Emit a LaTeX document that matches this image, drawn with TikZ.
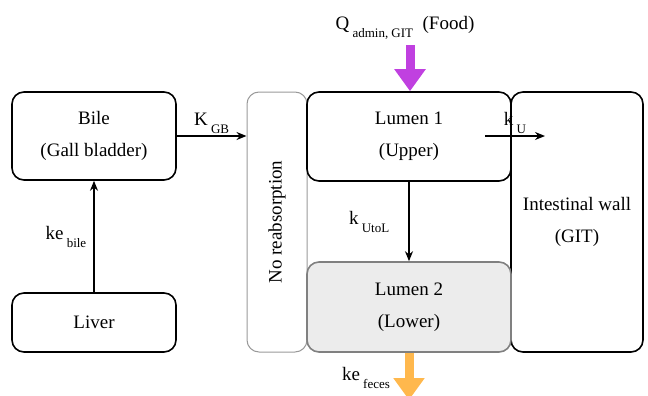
\documentclass[tikz,border=0pt]{standalone}
\usepackage{fontspec}
\setmainfont{Liberation Serif}
\usetikzlibrary{arrows.meta}

\definecolor{morado}{HTML}{C040E0}
\definecolor{naranja}{HTML}{FFB84D}
\newcommand{\bajo}[1]{\,\raisebox{-8pt}{\fontsize{13}{13}\selectfont #1}}

\tikzset{
  caja/.style={draw, line width=1.6pt, rounded corners=12pt, align=center,
    font=\fontsize{19}{32}\selectfont, inner sep=0pt},
  flecha/.style={-{Stealth[length=10pt,width=8pt]}, line width=1.5pt},
  gorda/.style={line width=9pt, -{Triangle[width=30pt,length=22pt]}},
  etiqueta/.style={font=\fontsize{19}{22}\selectfont, inner sep=1pt},
}

\begin{document}
\begin{tikzpicture}[x=1pt,y=-1pt]
    \useasboundingbox (0,0) rectangle (648,396);

    % Cajas de la izquierda
    \node[caja, minimum width=164, minimum height=88] (bile) at (94,136) {Bile\\(Gall bladder)};
    \node[caja, minimum width=164, minimum height=59] (liver) at (94,322.5) {Liver};

    % Zona sin reabsorcion
    \node[caja, draw=gray!80, line width=1pt, minimum width=60, minimum height=260] (noabs) at (277,222) {};
    \node[etiqueta, rotate=90] (noabstxt) at (noabs.center) {No reabsorption};

    % Pared intestinal y lumenes
    \node[caja, minimum width=132, minimum height=260] (wall) at (577,222) {Intestinal wall\\(GIT)};
    \node[caja, minimum width=204, minimum height=89] (lumA) at (409,136.5) {Lumen 1\\(Upper)};
    \node[caja, draw=gray, fill=gray!15, minimum width=204, minimum height=90] (lumB) at (409,307) {Lumen 2\\(Lower)};

    % Flechas entre compartimentos
    \draw[flecha] (liver.north) -- node[etiqueta, midway, left=6pt] {ke\bajo{bile}} (bile.south);
    \draw[flecha] (bile.east) -- node[etiqueta, above=1pt] {K\bajo{GB}} (bile.east -| noabs.west);
    \draw[flecha] (lumA.south) -- node[etiqueta, left=18pt] {k\bajo{UtoL}} (lumB.north);

    \coordinate (ku1) at (485,136);
    \coordinate (ku2) at (545,136);
    \draw[flecha] (ku1) -- node[etiqueta, above=1pt] {k\bajo{U}} (ku2);

    % Entrada de comida y salida por heces
    \node[etiqueta] (qin) at (405,28) {Q\bajo{admin, GIT}\ \ (Food)};
    \coordinate (qtop) at (410,45);
    \draw[gorda, morado] (qtop) -- (qtop |- lumA.north);

    \coordinate (fbot) at (409,400);
    \draw[gorda, naranja] (lumB.south) -- (fbot);
    \node[etiqueta] (keout) at (366,378) {ke\bajo{feces}};
\end{tikzpicture}
\end{document}
